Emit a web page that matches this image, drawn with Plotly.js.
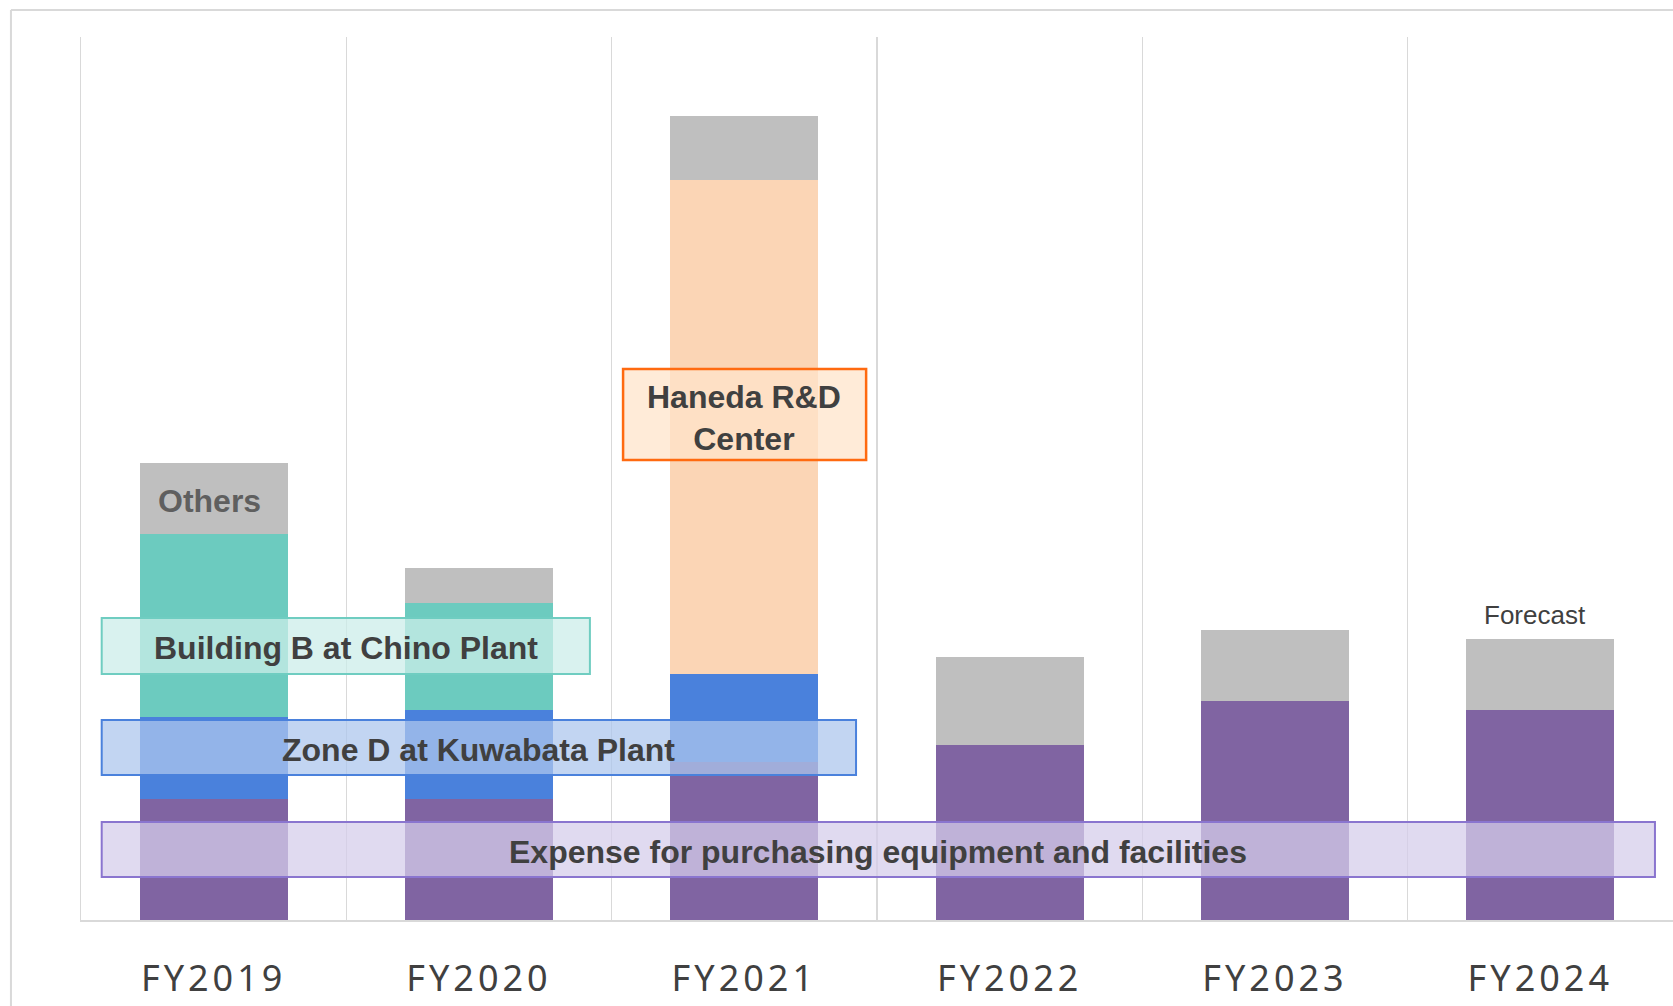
<!DOCTYPE html>
<html>
<head>
<meta charset="utf-8">
<script src="https://cdn.plot.ly/plotly-3.0.1.min.js"></script>
<style>
  html, body { margin: 0; padding: 0; background: #ffffff; }
  #chart { width: 1673px; height: 1006px; }
  .xtick text { letter-spacing: 4px; }
</style>
</head>
<body>
<div id="chart"></div>
<script>
// Fiscal years on the category axis
const categories = ['FY2019', 'FY2020', 'FY2021', 'FY2022', 'FY2023', 'FY2024'];

// Capital expenditure by item (stacked, same unit for all series)
const equipment = [13.7, 13.7, 17.9, 19.8, 24.8, 23.8];   // purchasing equipment and facilities
const zoneD     = [9.3, 10.1, 10.0, null, null, null];    // Zone D at Kuwabata Plant
const buildingB = [20.7, 12.1, null, null, null, null];   // Building B at Chino Plant
const haneda    = [null, null, 55.9, null, null, null];   // Haneda R&D Center
const others    = [8.0, 4.0, 7.2, 10.0, 8.0, 8.0];        // Others

const seriesNames = ['Expense for purchasing equipment and facilities',
                     'Zone D at Kuwabata Plant',
                     'Building B at Chino Plant',
                     'Haneda R&D Center',
                     'Others'];

const colors = ['#8064A2', '#4A81DC', '#6CCBBF', '#FBD5B5', '#BFBFBF'];
const values = [equipment, zoneD, buildingB, haneda, others];

const traces = values.map((v, i) => ({
  type: 'bar',
  name: seriesNames[i],
  x: categories,
  y: v,
  marker: { color: colors[i], line: { width: 0 } },
  hoverinfo: 'x+y+name'
}));

const textFont = { family: 'Liberation Sans, Arial, sans-serif', size: 32, color: '#404040' };

// Callout box: translucent rectangle in data coordinates
function box(x0, x1, y0, y1, fill, border, w) {
  return {
    type: 'rect', xref: 'x', yref: 'y', layer: 'above',
    x0: x0, x1: x1, y0: y0, y1: y1,
    fillcolor: fill, line: { color: border, width: w }
  };
}

const layout = {
  width: 1673,
  height: 1006,
  margin: { l: 81, r: 0, t: 37, b: 86, pad: 0 },
  paper_bgcolor: '#ffffff',
  plot_bgcolor: '#ffffff',
  barmode: 'stack',
  bargap: 0.442,
  showlegend: false,
  xaxis: {
    type: 'category',
    tickson: 'boundaries',
    showgrid: true,
    gridcolor: '#D9D9D9',
    gridwidth: 1.5,
    showline: true,
    linecolor: '#D9D9D9',
    linewidth: 2,
    ticks: '',
    ticklabelstandoff: 26,
    tickfont: { family: 'Noto Sans, Open Sans, sans-serif', size: 36, color: '#404040' },
    fixedrange: true
  },
  yaxis: {
    range: [0, 100],
    showgrid: false,
    zeroline: false,
    showticklabels: false,
    showline: true,
    linecolor: '#D9D9D9',
    linewidth: 1.5,
    ticks: '',
    fixedrange: true
  },
  shapes: [
    // outer frame (top and left edges)
    { type: 'line', xref: 'paper', yref: 'paper', x0: -0.0440, x1: 1.01, y0: 1.0306, y1: 1.0306,
      line: { color: '#D9D9D9', width: 2 } },
    { type: 'line', xref: 'paper', yref: 'paper', x0: -0.0440, x1: -0.0440, y0: 1.0306, y1: -0.11,
      line: { color: '#D9D9D9', width: 2 } },
    box(-0.422, 1.418, 27.86, 34.2, 'rgba(204,237,233,0.74)', '#6FCDC1', 2),
    box(-0.422, 2.421, 16.42, 22.65, 'rgba(173,198,237,0.74)', '#4A81DC', 2),
    box(-0.422, 5.432, 4.87, 11.1, 'rgba(213,205,235,0.74)', '#8A75CF', 2),
    box(1.543, 2.459, 52.1, 62.4, 'rgba(255,228,202,0.74)', '#FF6A10', 2.5)
  ],
  annotations: [
    { xref: 'x', yref: 'y', x: 0.5, y: 30.75, text: '<b>Building B at Chino Plant</b>',
      showarrow: false, font: textFont },
    { xref: 'x', yref: 'y', x: 0.9965, y: 19.25, text: '<b>Zone D at Kuwabata Plant</b>',
      showarrow: false, font: textFont },
    { xref: 'x', yref: 'y', x: 2.502, y: 7.7, text: '<b>Expense for purchasing equipment and facilities</b>',
      showarrow: false, font: textFont },
    { xref: 'x', yref: 'y', x: 2.0, y: 56.85, text: '<b>Haneda R&amp;D<br>Center</b>',
      showarrow: false, font: textFont },
    { xref: 'x', yref: 'y', x: 'FY2019', xshift: -4, y: 47.45, text: '<b>Others</b>',
      showarrow: false, font: { family: 'Liberation Sans, Arial, sans-serif', size: 32, color: '#5F5F5F' } },
    { xref: 'x', yref: 'y', x: 'FY2024', xshift: -5, y: 34.5, text: 'Forecast',
      showarrow: false, font: { family: 'Liberation Sans, Arial, sans-serif', size: 26, color: '#404040' } }
  ]
};

Plotly.newPlot('chart', traces, layout, { displayModeBar: false, staticPlot: true });
</script>
</body>
</html>
